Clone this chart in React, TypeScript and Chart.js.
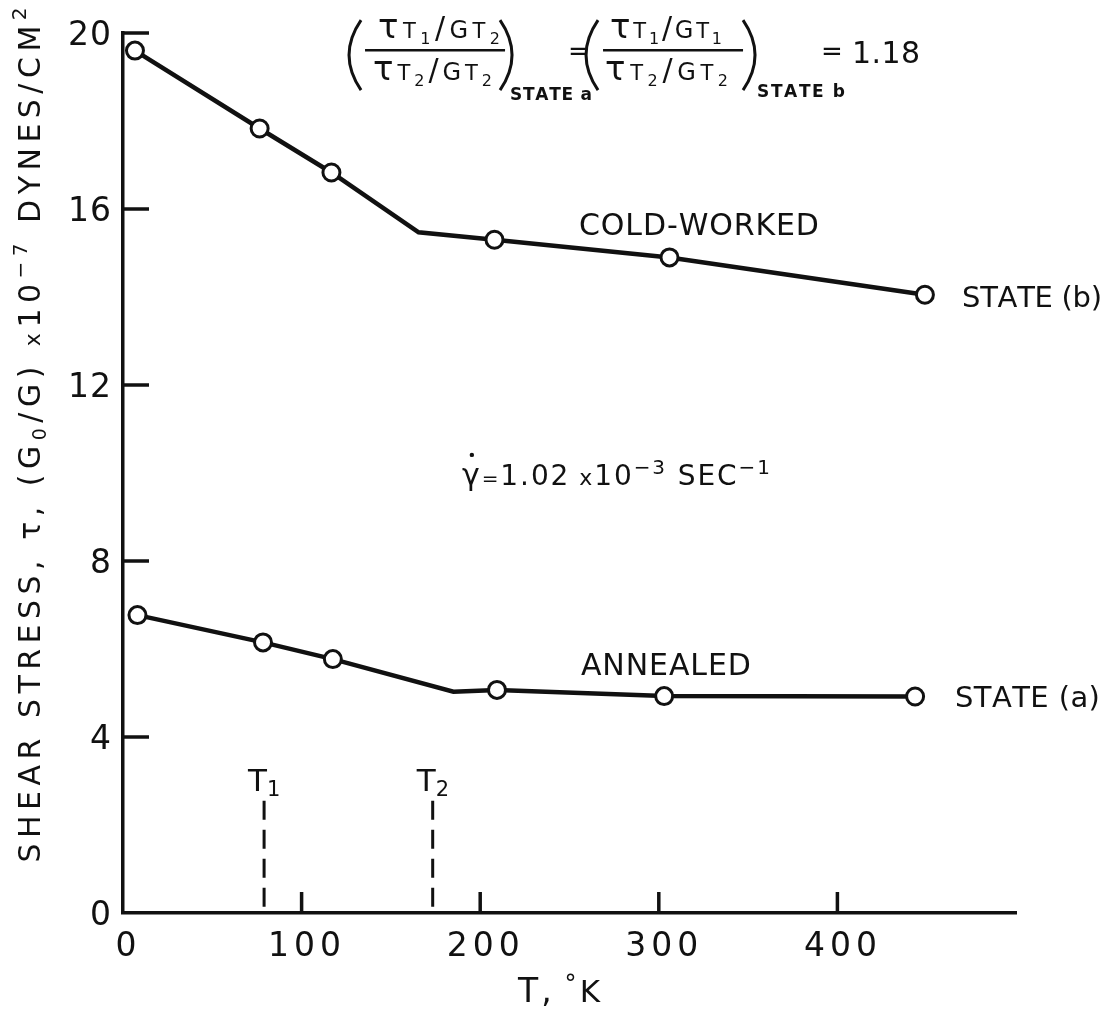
import React, { useEffect, useRef } from 'react';
import { Chart, registerables } from 'chart.js';

Chart.register(...registerables);

// ---------------- data ----------------
const coldWorkedT = [6.7, 76.5, 116.7, 208, 306, 449];
const coldWorkedTau = [19.6, 17.83, 16.83, 15.3, 14.9, 14.05];
const coldWorkedBendT = 165.5;
const coldWorkedBendTau = 15.47;

const annealedT = [8.1, 78.4, 117.5, 209.4, 303, 443.5];
const annealedTau = [6.77, 6.15, 5.77, 5.07, 4.93, 4.92];
const annealedBendT = 185;
const annealedBendTau = 5.03;

const markerT = [79, 173.4];
const markerSub = ['1', '2'];
const markerTopTau = 2.55;

const xTickValues = [0, 100, 200, 300, 400];
const yTickValues = [0, 4, 8, 12, 16, 20];

// ---------------- style ----------------
const INK = '#111111';
const FONT = '"DejaVu Sans", "Liberation Sans", sans-serif';

type Seg = { t: string; size: number; dy?: number; bold?: boolean; dot?: boolean };

function drawRich(
  ctx: CanvasRenderingContext2D,
  segs: Seg[],
  x: number,
  y: number,
  opt: { width?: number; spacing?: number; align?: 'left' | 'center' | 'right' } = {}
) {
  const chars: { ch: string; font: string; w: number; dy: number; dot?: boolean; size: number }[] = [];
  for (const s of segs) {
    const font = `${s.bold ? 'bold ' : ''}${s.size}px ${FONT}`;
    ctx.font = font;
    for (const ch of Array.from(s.t)) {
      chars.push({ ch, font, w: ctx.measureText(ch).width, dy: s.dy || 0, dot: s.dot, size: s.size });
    }
  }
  const natural = chars.reduce((a, c) => a + c.w, 0);
  let sp = opt.spacing ?? 0;
  if (opt.width != null && chars.length > 1) sp = (opt.width - natural) / (chars.length - 1);
  const total = natural + sp * (chars.length - 1);
  let cx = opt.align === 'center' ? x - total / 2 : opt.align === 'right' ? x - total : x;
  for (const c of chars) {
    ctx.font = c.font;
    ctx.fillText(c.ch, cx, y + c.dy);
    if (c.dot) {
      ctx.beginPath();
      ctx.arc(cx + c.w / 2 + 1, y + c.dy - c.size * 1.0, 2.2, 0, Math.PI * 2);
      ctx.fill();
    }
    cx += c.w + sp;
  }
}

function paren(ctx: CanvasRenderingContext2D, x: number, top: number, bottom: number, left: boolean) {
  const w = 13;
  const mid = (top + bottom) / 2;
  ctx.beginPath();
  if (left) {
    ctx.moveTo(x + w, top);
    ctx.quadraticCurveTo(x - 11, mid, x + w, bottom);
  } else {
    ctx.moveTo(x, top);
    ctx.quadraticCurveTo(x + w + 11, mid, x, bottom);
  }
  ctx.stroke();
}

// annotation placement (data coordinates of the text anchor)
const notes = [
  { segs: [{ t: 'COLD-WORKED', size: 30 }], t: 255.3, tau: 15.41, width: 240 },
  { segs: [{ t: 'STATE (b)', size: 29 }], t: 469.8, tau: 13.77, width: 140 },
  { segs: [{ t: 'ANNEALED', size: 30 }], t: 256.4, tau: 5.41, width: 170 },
  { segs: [{ t: 'STATE (a)', size: 29 }], t: 465.8, tau: 4.68, width: 145 },
  {
    segs: [
      { t: 'γ', size: 30, dot: true },
      { t: '=', size: 20 },
      { t: '1.02', size: 28 },
      { t: ' x', size: 22 },
      { t: '10', size: 28 },
      { t: '−3', size: 20, dy: -11 },
      { t: ' SEC', size: 28 },
      { t: '−1', size: 20, dy: -11 },
    ],
    t: 189.8,
    tau: 9.73,
    width: 308,
  },
];

const formulaAnchorT = 126; // left paren
const formulaAnchorTau = 19.61; // fraction bar

function withBend(ts: number[], taus: number[], bt: number, btau: number) {
  const pts = ts.map((t, i) => ({ x: t, y: taus[i] }));
  pts.push({ x: bt, y: btau });
  return pts.sort((a, b) => a.x - b.x);
}

const decor = {
  id: 'decor',
  beforeDraw(chart: any) {
    const { ctx, width, height } = chart;
    ctx.save();
    ctx.fillStyle = '#ffffff';
    ctx.fillRect(0, 0, width, height);
    ctx.restore();
  },
  afterDraw(chart: any) {
    const { ctx, chartArea: ca, scales } = chart;
    const xs = scales.x;
    const ys = scales.y;
    ctx.save();
    ctx.fillStyle = INK;
    ctx.strokeStyle = INK;
    ctx.textBaseline = 'alphabetic';
    ctx.lineCap = 'butt';

    // inward tick marks
    ctx.lineWidth = 3.5;
    for (const v of yTickValues) {
      if (v === 0) continue;
      const py = ys.getPixelForValue(v);
      ctx.beginPath();
      ctx.moveTo(ca.left, py);
      ctx.lineTo(ca.left + 26, py);
      ctx.stroke();
    }
    for (const v of xTickValues) {
      if (v === 0) continue;
      const px = xs.getPixelForValue(v);
      ctx.beginPath();
      ctx.moveTo(px, ca.bottom);
      ctx.lineTo(px, ca.bottom - 21);
      ctx.stroke();
    }

    // tick labels
    for (const v of yTickValues) {
      drawRich(ctx, [{ t: String(v), size: 33 }], ca.left - 12, ys.getPixelForValue(v) + 12, {
        spacing: 1,
        align: 'right',
      });
    }
    for (const v of xTickValues) {
      drawRich(ctx, [{ t: String(v), size: 33 }], xs.getPixelForValue(v) + 3, ca.bottom + 43, {
        spacing: 5,
        align: 'center',
      });
    }

    // axis titles
    drawRich(
      ctx,
      [
        { t: 'T,', size: 33 },
        { t: ' ', size: 20 },
        { t: '°', size: 24, dy: -10 },
        { t: 'K', size: 31 },
      ],
      ca.left + 395,
      ca.bottom + 89,
      { width: 82 }
    );

    ctx.save();
    ctx.translate(ca.left - 94, (ca.top + ca.bottom) / 2 - 38);
    ctx.rotate(-Math.PI / 2);
    drawRich(
      ctx,
      [
        { t: 'SHEAR STRESS, τ, (G', size: 30 },
        { t: '0', size: 19, dy: 6 },
        { t: '/G) ', size: 30 },
        { t: 'x', size: 22 },
        { t: '10', size: 30 },
        { t: '−7', size: 20, dy: -13 },
        { t: ' DYNES/CM', size: 30 },
        { t: '2', size: 20, dy: -14 },
      ],
      0,
      11,
      { width: 855, align: 'center' }
    );
    ctx.restore();

    // T1 / T2 labels
    markerT.forEach((t, i) => {
      const px = xs.getPixelForValue(t);
      const py = ys.getPixelForValue(markerTopTau) - 10;
      drawRich(
        ctx,
        [
          { t: 'T', size: 31 },
          { t: markerSub[i], size: 21, dy: 5 },
        ],
        px - 16,
        py,
        { spacing: 0 }
      );
    });

    // annotations
    for (const n of notes) {
      drawRich(ctx, n.segs, xs.getPixelForValue(n.t), ys.getPixelForValue(n.tau), { width: n.width });
    }

    // formula
    const ax = xs.getPixelForValue(formulaAnchorT);
    const ay = ys.getPixelForValue(formulaAnchorTau);
    ctx.lineWidth = 3;
    paren(ctx, ax, ay - 30, ay + 40, true);
    paren(ctx, ax + 152, ay - 30, ay + 40, false);
    paren(ctx, ax + 237, ay - 30, ay + 40, true);
    paren(ctx, ax + 395, ay - 30, ay + 40, false);
    ctx.lineWidth = 2.5;
    ctx.beginPath();
    ctx.moveTo(ax + 17, ay);
    ctx.lineTo(ax + 157, ay);
    ctx.moveTo(ax + 255, ay);
    ctx.lineTo(ax + 395, ay);
    ctx.stroke();

    const frac = (a: string, b: string): Seg[] => [
      { t: 'τ', size: 34 },
      { t: 'T', size: 21 },
      { t: a, size: 16, dy: 6 },
      { t: '/', size: 30 },
      { t: 'G', size: 24 },
      { t: 'T', size: 21 },
      { t: b, size: 16, dy: 6 },
    ];
    drawRich(ctx, frac('1', '2'), ax + 30, ay - 12, { width: 122 });
    drawRich(ctx, frac('2', '2'), ax + 25, ay + 30, { width: 119 });
    drawRich(ctx, frac('1', '1'), ax + 262, ay - 12, { width: 112 });
    drawRich(ctx, frac('2', '2'), ax + 257, ay + 30, { width: 123 });
    drawRich(ctx, [{ t: 'STATE a', size: 17, bold: true }], ax + 162, ay + 50, { width: 82 });
    drawRich(ctx, [{ t: 'STATE b', size: 17, bold: true }], ax + 409, ay + 47, { width: 88 });
    drawRich(ctx, [{ t: '=', size: 26 }], ax + 220, ay + 10, {});
    drawRich(ctx, [{ t: '=', size: 26 }], ax + 473, ay + 10, {});
    drawRich(ctx, [{ t: '1.18', size: 30 }], ax + 504, ay + 13, { width: 68 });

    ctx.restore();
  },
};

export default function App() {
  const ref = useRef<HTMLCanvasElement | null>(null);
  useEffect(() => {
    if (!ref.current) return;
    const lineStyle = {
      borderColor: INK,
      borderWidth: 4.5,
      pointRadius: 0,
      pointHoverRadius: 0,
      tension: 0,
      fill: false,
      order: 1,
      clip: false as any,
    };
    const markerStyle = {
      showLine: false,
      pointRadius: 8.5,
      pointHoverRadius: 8.5,
      pointBackgroundColor: '#ffffff',
      pointBorderColor: INK,
      pointBorderWidth: 3,
      order: 0,
      clip: false as any,
    };
    const chart = new Chart(ref.current, {
      type: 'line',
      data: {
        datasets: [
          { label: 'Cold-worked', data: withBend(coldWorkedT, coldWorkedTau, coldWorkedBendT, coldWorkedBendTau), ...lineStyle },
          { label: 'Annealed', data: withBend(annealedT, annealedTau, annealedBendT, annealedBendTau), ...lineStyle },
          { label: 'Cold-worked (measured)', data: coldWorkedT.map((t, i) => ({ x: t, y: coldWorkedTau[i] })), ...markerStyle },
          { label: 'Annealed (measured)', data: annealedT.map((t, i) => ({ x: t, y: annealedTau[i] })), ...markerStyle },
          ...markerT.map((t, i) => ({
            label: 'T' + markerSub[i],
            data: [
              { x: t, y: markerTopTau },
              { x: t, y: 0 },
            ],
            borderColor: INK,
            borderWidth: 3,
            borderDash: [19, 10],
            pointRadius: 0,
            pointHoverRadius: 0,
            order: 2,
            clip: false as any,
          })),
        ] as any,
      },
      options: {
        responsive: false,
        animation: false,
        events: [],
        devicePixelRatio: 1,
        layout: { padding: { left: 123, right: 98, top: 33, bottom: 98 } },
        plugins: { legend: { display: false }, tooltip: { enabled: false } },
        scales: {
          x: {
            type: 'linear',
            min: 0,
            max: 500,
            ticks: { display: false },
            grid: { display: false, drawTicks: false },
            border: { display: true, color: INK, width: 3.5 },
            afterFit: (s: any) => {
              s.height = 0;
            },
          },
          y: {
            type: 'linear',
            min: 0,
            max: 20,
            ticks: { display: false },
            grid: { display: false, drawTicks: false },
            border: { display: true, color: INK, width: 3.5 },
            afterFit: (s: any) => {
              s.width = 0;
            },
          },
        },
      } as any,
      plugins: [decor],
    });
    return () => chart.destroy();
  }, []);
  return (
    <canvas
      ref={ref}
      width={1114}
      height={1011}
      style={{ position: 'absolute', left: 0, top: 0, display: 'block' }}
    />
  );
}
